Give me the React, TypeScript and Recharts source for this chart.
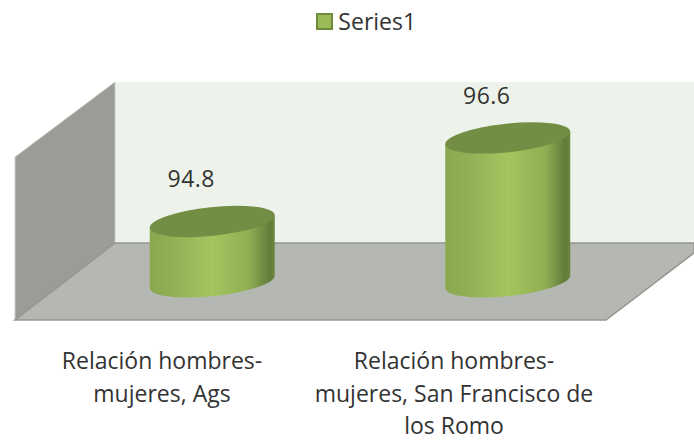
import { BarChart, Bar, XAxis, YAxis, Legend, LabelList } from 'recharts';

const categories = ['Relación hombres-mujeres, Ags', 'Relación hombres-mujeres, San Francisco de los Romo'];
const seriesValues = [94.8, 96.6];
const tickLines = [
  ['Relación hombres-', 'mujeres, Ags'],
  ['Relación hombres-', 'mujeres, San Francisco de', 'los Romo'],
];

const data = categories.map((name, i) => ({ name, Series1: seriesValues[i] }));

const FONT = '"Open Sans", sans-serif';
const TEXT = '#333333';

// Cylinder ellipse, tilted like the Excel 3D view
const RX = 62.8;
const RY = 14.3;
const TILT = -6;
const EDGE = 6;

function Cylinder(props: any) {
  const { x, y, width, height } = props;
  const cx = x + width / 2;
  const left = cx - width / 2;
  const right = cx + width / 2;
  const bottom = y + height;
  const body = `M${left} ${y + EDGE} L${left} ${bottom + EDGE} A${RX} ${RY} ${TILT} 0 0 ${right} ${bottom - EDGE} L${right} ${y - EDGE} Z`;
  return (
    <g>
      <path d={body} fill="url(#cylBody)" />
      <ellipse cx={cx} cy={y} rx={RX} ry={RY} fill="#728d44" transform={`rotate(${TILT} ${cx} ${y})`} />
    </g>
  );
}

function CategoryTick(props: any) {
  const { x, payload, index } = props;
  const lines = tickLines[index] || [payload.value];
  const dx = index === 0 ? -50.5 : -54;
  return (
    <text textAnchor="middle" fontFamily={FONT} fontSize={23} fill={TEXT}>
      {lines.map((line, i) => (
        <tspan key={i} x={x + dx} y={369 + i * 32.5}>
          {line}
        </tspan>
      ))}
    </text>
  );
}

function ValueLabel(props: any) {
  const { x, y, width, value } = props;
  return (
    <text x={x + width / 2 - 21} y={y - 34} textAnchor="middle" fontFamily={FONT} fontSize={23} letterSpacing={0.5} fill={TEXT}>
      {value}
    </text>
  );
}

function LegendBox() {
  return (
    <div style={{ height: 30, display: 'flex', justifyContent: 'center', alignItems: 'center', fontFamily: FONT, fontSize: 23, color: TEXT }}>
      <span style={{ width: 13, height: 13, background: '#9bbb59', border: '2px solid #6f8a3a', marginRight: 5, marginLeft: 12 }} />
      Series1
    </div>
  );
}

export default function App() {
  return (
    <div style={{ position: 'absolute', left: 0, top: 0 }}>
      <BarChart
        width={694}
        height={441}
        data={data}
        margin={{ top: 89.4, right: 38.25, bottom: 9.2, left: 64.75 }}
      >
        <defs>
          <linearGradient id="cylBody" x1="0" y1="0" x2="1" y2="0">
            <stop offset="0" stopColor="#8aa94f" />
            <stop offset="0.2" stopColor="#90b156" />
            <stop offset="0.5" stopColor="#a3c660" />
            <stop offset="0.8" stopColor="#8fae52" />
            <stop offset="0.96" stopColor="#617c39" />
            <stop offset="1" stopColor="#6b863f" />
          </linearGradient>
        </defs>
        {/* 3D room behind the bars */}
        <polygon points="115,82 694,82 694,243 115,243" fill="#edf3ea" />
        <polygon points="15,157 115,82 115,243 15,320" fill="#9a9c96" stroke="#c9cbc6" strokeWidth={1} />
        <polygon points="115,243 694,243 694,253 606,320 15,320" fill="#b5b7b2" stroke="#94968f" strokeWidth={1.5} />
        <Legend verticalAlign="top" content={<LegendBox />} wrapperStyle={{ top: 6 }} />
        <XAxis
          dataKey="name"
          interval={0}
          height={150}
          axisLine={false}
          tickLine={false}
          tick={<CategoryTick />}
        />
        <YAxis hide domain={[93.5, 97]} />
        <Bar dataKey="Series1" barSize={125} fill="#9bbb59" shape={<Cylinder />} isAnimationActive={false}>
          <LabelList dataKey="Series1" content={<ValueLabel />} />
        </Bar>
      </BarChart>
    </div>
  );
}
